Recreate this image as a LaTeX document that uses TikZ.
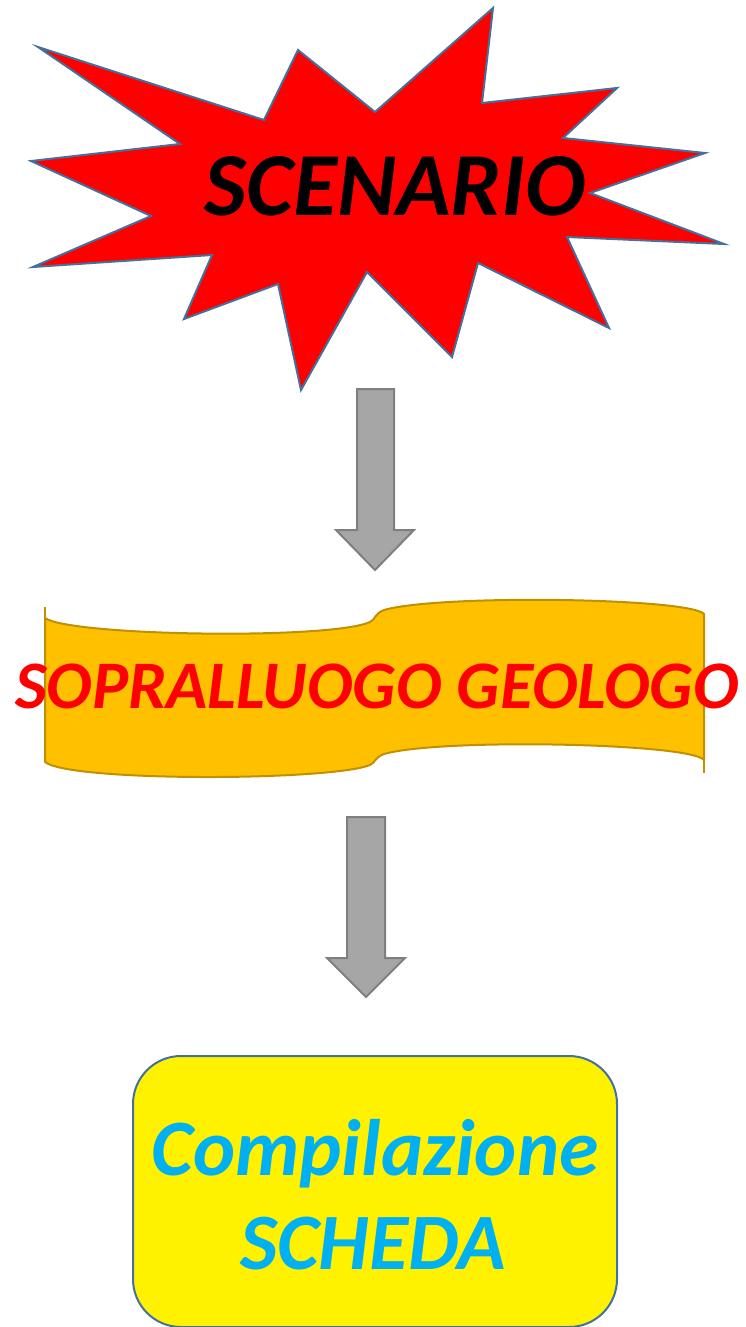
\documentclass[tikz,border=0pt]{standalone}
\usepackage{fontspec}
\setmainfont{Carlito}
\definecolor{starline}{HTML}{41719C}
\definecolor{arrfill}{HTML}{A6A6A6}
\definecolor{arrline}{HTML}{7F7F7F}
\definecolor{banfill}{HTML}{FFC000}
\definecolor{banline}{HTML}{BF9000}
\definecolor{txtblue}{HTML}{00B0F0}
\begin{document}
\begin{tikzpicture}[x=1pt,y=-1pt,
  label/.style={inner sep=0pt,anchor=base,font=\bfseries\itshape},
  blockarrow/.style={fill=arrfill,draw=arrline,line width=2pt,line join=miter},
  starshape/.style={fill=red,draw=starline,line width=2pt,line join=miter},
  bannershape/.style={fill=banfill,draw=banline,line width=2pt,line join=round},
  cardshape/.style={fill=yellow,draw=starline,line width=2pt,rounded corners=48pt}]
\useasboundingbox (0,0) rectangle (745,1327);
% star
\draw[starshape] (38,47) -- (264,120) -- (298,50) -- (375,112) -- (493,8) -- (482,103)
  -- (617,88) -- (563,138) -- (705,153) -- (590,193) -- (724,244) -- (567,237)
  -- (609,328) -- (478,263) -- (452,357) -- (367,272) -- (301,390) -- (278,284)
  -- (184,319) -- (212,255) -- (33,267) -- (151,216) -- (31,161) -- (180,144) -- cycle;
\node[label,font=\bfseries\itshape\fontsize{90}{90}\selectfont] (scen) at (395,215) {SCENARIO};
% arrow 1
\draw[blockarrow] (357,389) -- (394,389) -- (394,530) -- (414,530) -- (375,570)
  -- (336,530) -- (357,530) -- cycle;
% banner
\draw[bannershape] (45,618) .. controls (70,636) and (330,640) .. (370,622)
  .. controls (376,619) and (374,614) .. (384,610)
  .. controls (440,594) and (690,598) .. (704,614) -- (704,760)
  .. controls (690,743) and (440,738) .. (384,754)
  .. controls (374,758) and (376,762) .. (370,765)
  .. controls (330,781) and (70,782) .. (45,762) -- cycle;
\draw[banline,line width=2pt] (45,618) -- (45,607);
\draw[banline,line width=2pt] (704,760) -- (704,773);
\node[label,red,font=\bfseries\itshape\fontsize{68}{68}\selectfont] (sopr) at (377,708) {SOPRALLUOGO GEOLOGO};
% arrow 2
\draw[blockarrow] (347,817) -- (385,817) -- (385,958) -- (405,958) -- (366,997)
  -- (327,958) -- (347,958) -- cycle;
% card
\draw[cardshape] (133,1056) rectangle (617,1327);
\node[label,txtblue,font=\bfseries\itshape\fontsize{80}{80}\selectfont] (comp) at (375,1175) {Compilazione};
\node[label,txtblue,font=\bfseries\itshape\fontsize{80}{80}\selectfont] (sch) at (373,1269) {SCHEDA};
\end{tikzpicture}
\end{document}
